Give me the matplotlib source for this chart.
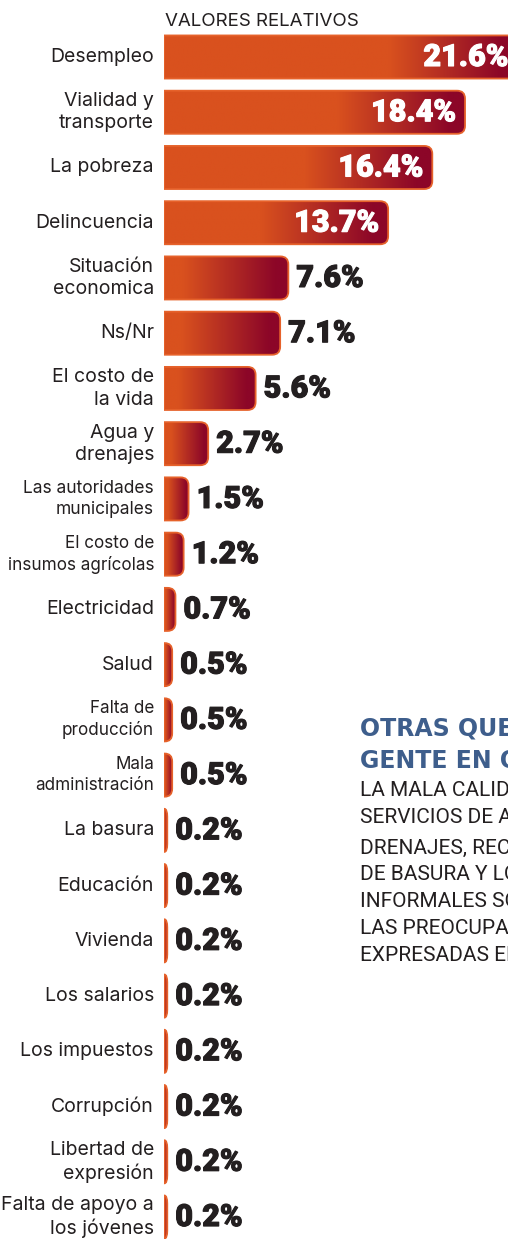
"""
Horizontal bar chart: main problems reported (valores relativos).
"""

import matplotlib

matplotlib.use("Agg")

import matplotlib.pyplot as plt
import matplotlib.patheffects as pe
import numpy as np
from matplotlib.patches import PathPatch
from matplotlib.path import Path

CATEGORIES = [
    "Desempleo",
    "Vialidad y\ntransporte",
    "La pobreza",
    "Delincuencia",
    "Situación\neconomica",
    "Ns/Nr",
    "El costo de\nla vida",
    "Agua y\ndrenajes",
    "Las autoridades\nmunicipales",
    "El costo de\ninsumos agrícolas",
    "Electricidad",
    "Salud",
    "Falta de\nproducción",
    "Mala\nadministración",
    "La basura",
    "Educación",
    "Vivienda",
    "Los salarios",
    "Los impuestos",
    "Corrupción",
    "Libertad de\nexpresión",
    "Falta de apoyo a\nlos jóvenes",
]
VALUES = [21.6, 18.4, 16.4, 13.7, 7.6, 7.1, 5.6, 2.7, 1.5, 1.2, 0.7, 0.5,
          0.5, 0.5, 0.2, 0.2, 0.2, 0.2, 0.2, 0.2, 0.2, 0.2]
VALUE_LABELS = [f"{v:.1f}%" for v in VALUES]

SUBTITLE = "VALORES RELATIVOS"
NOTE_TITLE = "OTRAS QUEJAS DE LA\nGENTE EN OAXACA"
NOTE_BODY = ("LA MALA CALIDAD DE LOS\nSERVICIOS DE AGUA Y\nDRENAJES, RECOLECCIÓN\n"
             "DE BASURA Y LOS COMERCIOS\nINFORMALES SON ALGUNAS DE\n"
             "LAS PREOCUPACIONES\nEXPRESADAS EN LA ENCUESTA")

ORANGE = np.array([0xD9, 0x51, 0x1E]) / 255
DARK_RED = np.array([0x8C, 0x06, 0x28]) / 255
EDGE = "#E6622B"
TEXT = "#231F20"
BLUE = "#3E5E8C"

SMALL_LABELS = {"Las autoridades\nmunicipales": 12.5,
                "El costo de\ninsumos agrícolas": 12.3,
                "Falta de\nproducción": 12.3,
                "Mala\nadministración": 12.3}

W, H = 508, 1239
X0 = 164            # pixel where bars start
PX_PER_PCT = 16.36
ROW0, ROW_PITCH = 57, 55.24
BAR_H = 0.78
CORNER_PX = 8


def bar_path(v, y, h, rx, ry):
    y0, y1 = y - h / 2, y + h / 2
    verts = [(0, y0), (v - rx, y0), (v, y0), (v, y0 + ry),
             (v, y1 - ry), (v, y1), (v - rx, y1), (0, y1), (0, y0)]
    codes = [Path.MOVETO, Path.LINETO, Path.CURVE3, Path.CURVE3,
             Path.LINETO, Path.CURVE3, Path.CURVE3, Path.LINETO, Path.CLOSEPOLY]
    return Path(verts, codes)


def main():
    fig = plt.figure(figsize=(W / 100, H / 100), dpi=100)
    ax = fig.add_axes([X0 / W, 0, (W - X0) / W, 1])
    ax.set_xlim(0, (W - X0) / PX_PER_PCT)
    ax.set_ylim(len(VALUES) - 1 + (H - ROW0 - (len(VALUES) - 1) * ROW_PITCH) / ROW_PITCH,
                -ROW0 / ROW_PITCH)
    ax.axis("off")

    label_font = ["Inter", "DejaVu Sans"]
    value_font = ["Roboto", "DejaVu Sans"]

    for i, (cat, v, lab) in enumerate(zip(CATEGORIES, VALUES, VALUE_LABELS)):
        w_px = v * PX_PER_PCT
        rx = min(CORNER_PX / PX_PER_PCT, v * 0.9)
        ry = CORNER_PX / ROW_PITCH
        path = bar_path(v, i, BAR_H, rx, ry)

        # gradient orange -> dark red toward bar end
        grad_len = min(128, 0.85 * w_px) / PX_PER_PCT
        xs = np.linspace(0, v, 200)
        t = np.clip((xs - (v - grad_len)) / (0.88 * grad_len), 0, 1)[:, None]
        img = (ORANGE * (1 - t) + DARK_RED * t)[None, :, :]
        im = ax.imshow(img, extent=(0, v, i + BAR_H / 2, i - BAR_H / 2),
                       aspect="auto", interpolation="bilinear", zorder=2)
        clip = PathPatch(path, transform=ax.transData)
        im.set_clip_path(clip)
        ax.add_patch(PathPatch(path, facecolor="none", edgecolor=EDGE,
                               lw=1.3, zorder=3))

        ax.annotate(cat, xy=(0, i), xytext=(-10 * 0.72, 0),
                    textcoords="offset points", ha="right", va="center",
                    fontsize=SMALL_LABELS.get(cat, 14), family=label_font,
                    color=TEXT, linespacing=1.3, annotation_clip=False)

        inside = v >= 10
        color = "white" if inside else TEXT
        ax.annotate(lab, xy=(v, i), xytext=((-9 if inside else 8) * 0.72, 0),
                    textcoords="offset points", ha="right" if inside else "left",
                    va="center", fontsize=22, weight="black", family=value_font,
                    color=color, annotation_clip=False,
                    path_effects=[pe.withStroke(linewidth=0.8, foreground=color)],
                    zorder=5)

    fig.text(165 / W, 1 - 21 / H, SUBTITLE, ha="left", va="center",
             fontsize=13.5, family=label_font, color=TEXT)
    fig.text(360 / W, 1 - 745 / H, NOTE_TITLE, ha="left", va="center",
             fontsize=17, weight="bold", family=["DejaVu Sans"], color=BLUE,
             linespacing=1.45)
    fig.text(360 / W, 1 - 781 / H, NOTE_BODY, ha="left", va="top",
             fontsize=15, family=value_font, color=TEXT,
             linespacing=1.52)

    fig.savefig("out.png", dpi=100)


if __name__ == "__main__":
    main()
